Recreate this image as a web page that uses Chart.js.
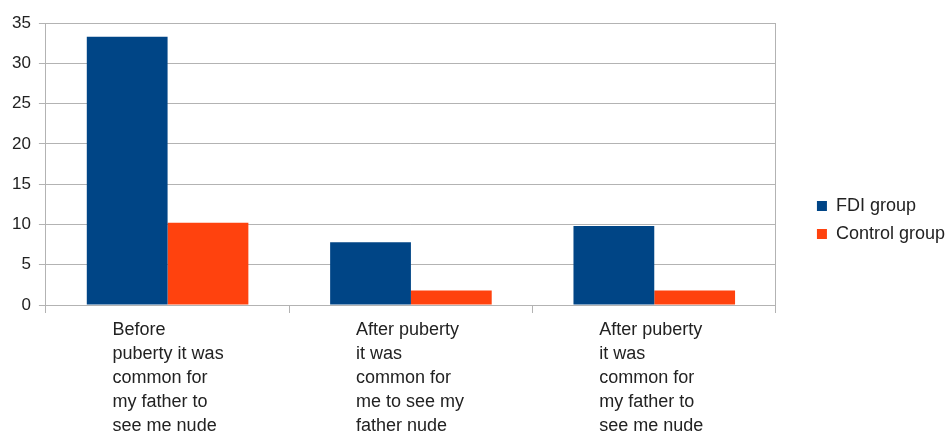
<!DOCTYPE html>
<html>
<head>
<meta charset="utf-8">
<script src="https://cdn.jsdelivr.net/npm/chart.js@4/dist/chart.umd.min.js"></script>
<style>
  html, body { margin: 0; padding: 0; background: #fff; }
  #wrap { width: 947px; height: 434px; }
</style>
</head>
<body>
<div id="wrap"><canvas id="chart"></canvas></div>
<script>
'use strict';

const categories = [
    ['Before', 'puberty it was', 'common for', 'my father to', 'see me nude'],
    ['After puberty', 'it was', 'common for', 'me to see my', 'father nude'],
    ['After puberty', 'it was', 'common for', 'my father to', 'see me nude']
];
const fdiGroup = [33.3, 7.8, 9.8];
const controlGroup = [10.2, 1.8, 1.8];
const yTicks = [0, 5, 10, 15, 20, 25, 30, 35];

const gridColor = '#b3b3b3';
const textColor = '#222';
const family = '"Liberation Sans", Arial, sans-serif';

// eslint-disable-next-line no-undef
const chart = new Chart(document.getElementById('chart'), {
    type: 'bar',
    data: {
        labels: categories,
        datasets: [
            {
                label: 'FDI group',
                data: fdiGroup,
                backgroundColor: '#004586',
                borderWidth: 0
            },
            {
                label: 'Control group',
                data: controlGroup,
                backgroundColor: '#ff420e',
                borderWidth: 0
            }
        ]
    },
    options: {
        responsive: true,
        maintainAspectRatio: false,
        animation: false,
        layout: { padding: { left: 4, top: 6, right: -8, bottom: 0 } },
        datasets: {
            bar: { categoryPercentage: 0.664, barPercentage: 1.0 }
        },
        scales: {
            x: {
                offset: true,
                grid: {
                    offset: true,
                    drawOnChartArea: false,
                    color: gridColor,
                    tickLength: 8
                },
                border: { color: gridColor },
                ticks: {
                    color: textColor,
                    font: { family: family, size: 18, lineHeight: 24 / 18 },
                    align: 'start',
                    labelOffset: -55,
                    padding: 5,
                    maxRotation: 0,
                    autoSkip: false
                },
                // last line runs to the bottom edge, as in the original
                afterFit(scale) { scale.height = 129; }
            },
            // empty spacers: top margin and the right frame line
            xTop: {
                type: 'linear',
                position: 'top',
                grid: { display: false },
                border: { display: false },
                ticks: { display: false },
                afterFit(scale) { scale.height = 17; }
            },
            y: {
                min: 0,
                max: 35,
                afterBuildTicks(scale) { scale.ticks = yTicks.map(v => ({ value: v })); },
                grid: { color: gridColor, tickLength: 7 },
                border: { color: gridColor },
                ticks: { color: textColor, font: { family: family, size: 17 }, padding: 8 }
            },
            yRight: {
                type: 'linear',
                position: 'right',
                grid: { display: false },
                border: { color: gridColor },
                ticks: { display: false },
                afterFit(scale) { scale.width = 31; }
            }
        },
        plugins: {
            legend: {
                position: 'right',
                align: 'center',
                labels: {
                    color: textColor,
                    font: { family: family, size: 18 },
                    boxWidth: 10,
                    boxHeight: 10,
                    padding: 10
                }
            },
            tooltip: { enabled: false }
        }
    }
});
</script>
</body>
</html>
